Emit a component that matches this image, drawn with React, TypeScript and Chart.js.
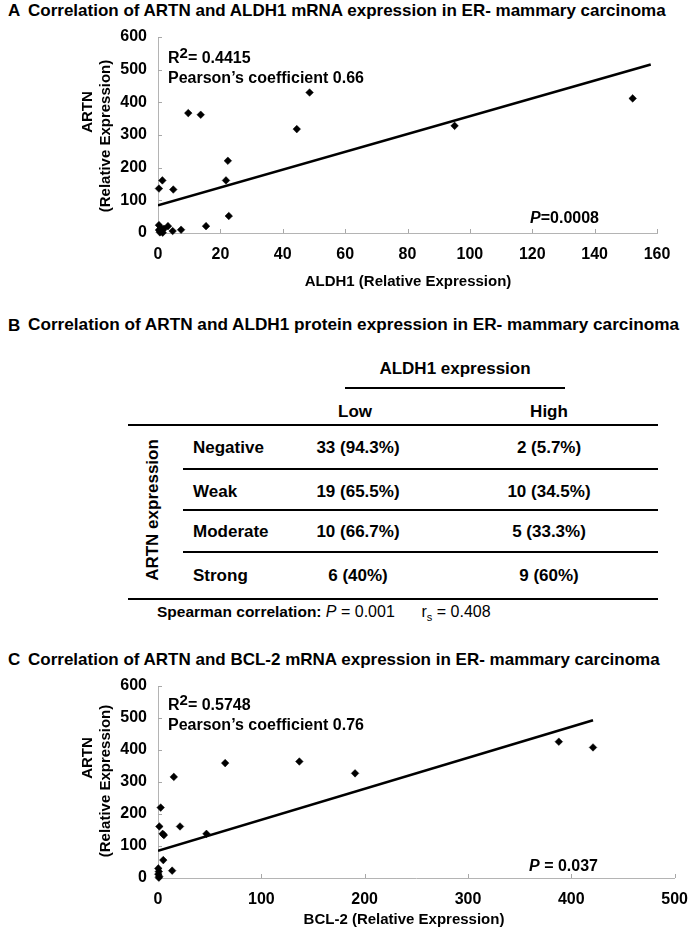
import React, { useEffect, useRef } from "react";
import { Chart, registerables } from "chart.js";

Chart.register(...registerables);

// ---------- Panel A: ARTN vs ALDH1 mRNA ----------
const aldh1X = [0.3, 1.4, 4.9, 9.7, 13.7, 22.4, 21.8, 22.7, 15.4, 7.4, 4.7, 3.2, 0.3, 0.9, 0.3, 1.3, 1.5, 0.6, 1.9, 0.8, 44.5, 48.6, 95.1, 152.2];
const artnVsAldh1 = [136, 161, 133, 367, 362, 221, 161, 52, 21, 10, 6, 21, 24, 15, 9, 8, 1, 2, 13, 5, 318, 430, 328, 412];
const aldh1TrendX = [0, 158];
const aldh1TrendY = [85, 516];
const aldh1Ticks = [0, 20, 40, 60, 80, 100, 120, 140, 160];
const artnTicks = [0, 100, 200, 300, 400, 500, 600];

// ---------- Panel C: ARTN vs BCL-2 mRNA ----------
const bcl2X = [15.3, 65, 2.6, 1.3, 21.3, 4.5, 5.7, 46.9, 5.1, 13.7, 0.3, 0.8, 0.3, 1.2, 0.8, 136.8, 190.7, 387.9, 421];
const artnVsBcl2 = [316, 359, 220, 161, 161, 138, 134, 138, 56, 23, 30, 20, 12, 5, 1, 364, 327, 426, 408];
const bcl2TrendX = [0, 421];
const bcl2TrendY = [85, 493];
const bcl2Ticks = [0, 100, 200, 300, 400, 500];

// ---------- Panel B: table ----------
const aldh1Levels = ["Low", "High"];
const artnLevels = ["Negative", "Weak", "Moderate", "Strong"];
const lowCounts = ["33 (94.3%)", "19 (65.5%)", "10 (66.7%)", "6 (40%)"];
const highCounts = ["2 (5.7%)", "10 (34.5%)", "5 (33.3%)", "9 (60%)"];

const FONT = '"Liberation Sans", Arial, Helvetica, sans-serif';

const innerTicks = {
  id: "innerTicks",
  beforeDatasetsDraw(chart: any) {
    const { ctx, chartArea, scales } = chart;
    ctx.save();
    ctx.strokeStyle = "#a8a8a8";
    ctx.lineWidth = 1;
    const xs = scales.x;
    const ys = scales.y;
    xs.ticks.forEach((t: any) => {
      const px = Math.round(xs.getPixelForValue(t.value)) + 0.5;
      ctx.beginPath();
      ctx.moveTo(px, chartArea.bottom);
      ctx.lineTo(px, chartArea.bottom - 4);
      ctx.stroke();
    });
    ys.ticks.forEach((t: any) => {
      const py = Math.round(ys.getPixelForValue(t.value)) + 0.5;
      ctx.beginPath();
      ctx.moveTo(chartArea.left, py);
      ctx.lineTo(chartArea.left + 4, py);
      ctx.stroke();
    });
    ctx.restore();
  },
};

function makeConfig(
  xs: number[], ys: number[], tx: number[], ty: number[],
  xTicks: number[], yTicks: number[],
  pad: any, yWidth: number, xHeight: number
): any {
  return {
    type: "scatter",
    data: {
      datasets: [
        {
          data: xs.map((x, i) => ({ x, y: ys[i] })),
          pointStyle: "rectRot",
          pointRadius: 3.8,
          backgroundColor: "#000",
          borderColor: "#000",
          borderWidth: 0.5,
          showLine: false,
          clip: false,
          order: 1,
        },
        {
          data: tx.map((x, i) => ({ x, y: ty[i] })),
          showLine: true,
          pointRadius: 0,
          borderColor: "#000",
          borderWidth: 2.6,
          fill: false,
          order: 2,
        },
      ],
    },
    options: {
      animation: false,
      responsive: false,
      maintainAspectRatio: false,
      layout: { padding: pad },
      plugins: { legend: { display: false }, tooltip: { enabled: false }, title: { display: false } },
      scales: {
        x: {
          type: "linear",
          min: xTicks[0],
          max: xTicks[xTicks.length - 1],
          afterBuildTicks: (s: any) => { s.ticks = xTicks.map((v) => ({ value: v })); },
          ticks: { color: "#000", font: { family: FONT, size: 16, weight: "bold" }, padding: 12 },
          grid: { display: true, drawOnChartArea: false, drawTicks: false },
          border: { color: "#b4b4b4", width: 1 },
          afterFit: (s: any) => { s.height = xHeight; },
        },
        y: {
          type: "linear",
          min: yTicks[0],
          max: yTicks[yTicks.length - 1],
          afterBuildTicks: (s: any) => { s.ticks = yTicks.map((v) => ({ value: v })); },
          ticks: { color: "#000", font: { family: FONT, size: 16, weight: "bold" }, padding: 11 },
          grid: { display: true, drawOnChartArea: false, drawTicks: false },
          border: { color: "#b4b4b4", width: 1 },
          afterFit: (s: any) => { s.width = yWidth; },
        },
      },
    },
    plugins: [innerTicks],
  };
}

function ScatterCanvas(props: { cfg: () => any; top: number; width: number; height: number }) {
  const ref = useRef<HTMLCanvasElement | null>(null);
  useEffect(() => {
    if (!ref.current) return;
    const chart = new Chart(ref.current, props.cfg());
    return () => chart.destroy();
  }, []);
  return (
    <canvas
      ref={ref}
      width={props.width}
      height={props.height}
      style={{ position: "absolute", left: 0, top: props.top, width: props.width, height: props.height }}
    />
  );
}

type TP = { x: number; y: number; align?: "left" | "center" | "right"; size?: number; rot?: boolean; bold?: boolean; children: any };
function T({ x, y, align = "left", size = 16, rot = false, bold = true, children }: TP) {
  const tx = align === "left" ? "0" : align === "center" ? "-50%" : "-100%";
  return (
    <div
      style={{
        position: "absolute",
        left: x,
        top: y,
        fontSize: size,
        lineHeight: 1,
        whiteSpace: "nowrap",
        fontWeight: bold ? "bold" : "normal",
        transform: rot ? "translate(-50%,-50%) rotate(-90deg)" : `translate(${tx},-50%)`,
      }}
    >
      {children}
    </div>
  );
}

function HLine({ x1, x2, y, w }: { x1: number; x2: number; y: number; w: number }) {
  return <div style={{ position: "absolute", left: x1, top: y - w / 2, width: x2 - x1, height: w, background: "#000" }} />;
}

const sup = { fontSize: 15, verticalAlign: 5, lineHeight: 0 } as any;

export default function App() {
  const cfgA = () =>
    makeConfig(aldh1X, artnVsAldh1, aldh1TrendX, aldh1TrendY, aldh1Ticks, artnTicks,
      { left: 0, right: 36, top: 37, bottom: 0 }, 158, 67);
  const cfgC = () =>
    makeConfig(bcl2X, artnVsBcl2, bcl2TrendX, bcl2TrendY, bcl2Ticks, artnTicks,
      { left: 0, right: 18, top: 46, bottom: 0 }, 158, 56);

  const rowY = [447, 491, 531, 575];
  return (
    <div
      style={{
        position: "absolute", left: 0, top: 0, width: 693, height: 934, overflow: "hidden",
        background: "#fff", color: "#000", fontFamily: FONT,
      }}
    >
      {/* Panel A */}
      <T x={8} y={10} size={17}>A</T>
      <T x={28} y={10} size={17}>Correlation of ARTN and ALDH1 mRNA expression in ER- mammary carcinoma</T>
      <ScatterCanvas cfg={cfgA} top={0} width={693} height={300} />
      <T x={86} y={112} size={15} rot>ARTN</T>
      <T x={104} y={136} size={15} rot>(Relative Expression)</T>
      <T x={408} y={280} size={15} align="center">ALDH1 (Relative Expression)</T>
      <T x={168} y={58} size={16}>R<span style={sup}>2</span>= 0.4415</T>
      <T x={168} y={78} size={16}>Pearson’s coefficient 0.66</T>
      <T x={599} y={218} size={16} align="right"><i>P</i>=0.0008</T>

      {/* Panel B */}
      <T x={8} y={325} size={17}>B</T>
      <T x={28} y={325} size={17.2}>Correlation of ARTN and ALDH1 protein expression in ER- mammary carcinoma</T>
      <T x={455} y={368} size={17} align="center">ALDH1 expression</T>
      <HLine x1={345} x2={565} y={388} w={1.5} />
      <T x={355} y={411} size={17} align="center">{aldh1Levels[0]}</T>
      <T x={549} y={411} size={17} align="center">{aldh1Levels[1]}</T>
      <HLine x1={128} x2={658} y={425} w={2} />
      <T x={152} y={510} size={17} rot>ARTN expression</T>
      {artnLevels.map((lab, i) => (
        <React.Fragment key={lab}>
          <T x={193} y={rowY[i]} size={17}>{lab}</T>
          <T x={358} y={rowY[i]} size={17} align="center">{lowCounts[i]}</T>
          <T x={549} y={rowY[i]} size={17} align="center">{highCounts[i]}</T>
        </React.Fragment>
      ))}
      <HLine x1={183} x2={658} y={469} w={1.5} />
      <HLine x1={183} x2={658} y={510} w={1.5} />
      <HLine x1={183} x2={658} y={552} w={1.5} />
      <HLine x1={128} x2={658} y={599} w={2} />
      <T x={157} y={612} size={15.5}>
        Spearman correlation:{" "}
        <span style={{ fontWeight: "normal", fontSize: 16 }}>
          <i>P</i> = 0.001&nbsp;&nbsp;&nbsp;&nbsp;&nbsp;&nbsp;r<sub style={{ fontSize: 11, lineHeight: 0 }}>s</sub> = 0.408
        </span>
      </T>

      {/* Panel C */}
      <T x={8} y={659} size={17}>C</T>
      <T x={28} y={659} size={17}>Correlation of ARTN and BCL-2 mRNA expression in ER- mammary carcinoma</T>
      <ScatterCanvas cfg={cfgC} top={640} width={700} height={294} />
      <T x={86} y={758} size={15} rot>ARTN</T>
      <T x={104} y={781} size={15} rot>(Relative Expression)</T>
      <T x={404} y={918} size={15} align="center">BCL-2 (Relative Expression)</T>
      <T x={168} y={705} size={16}>R<span style={sup}>2</span>= 0.5748</T>
      <T x={168} y={725} size={16}>Pearson’s coefficient 0.76</T>
      <T x={598} y={866} size={16} align="right"><i>P</i> = 0.037</T>
    </div>
  );
}
